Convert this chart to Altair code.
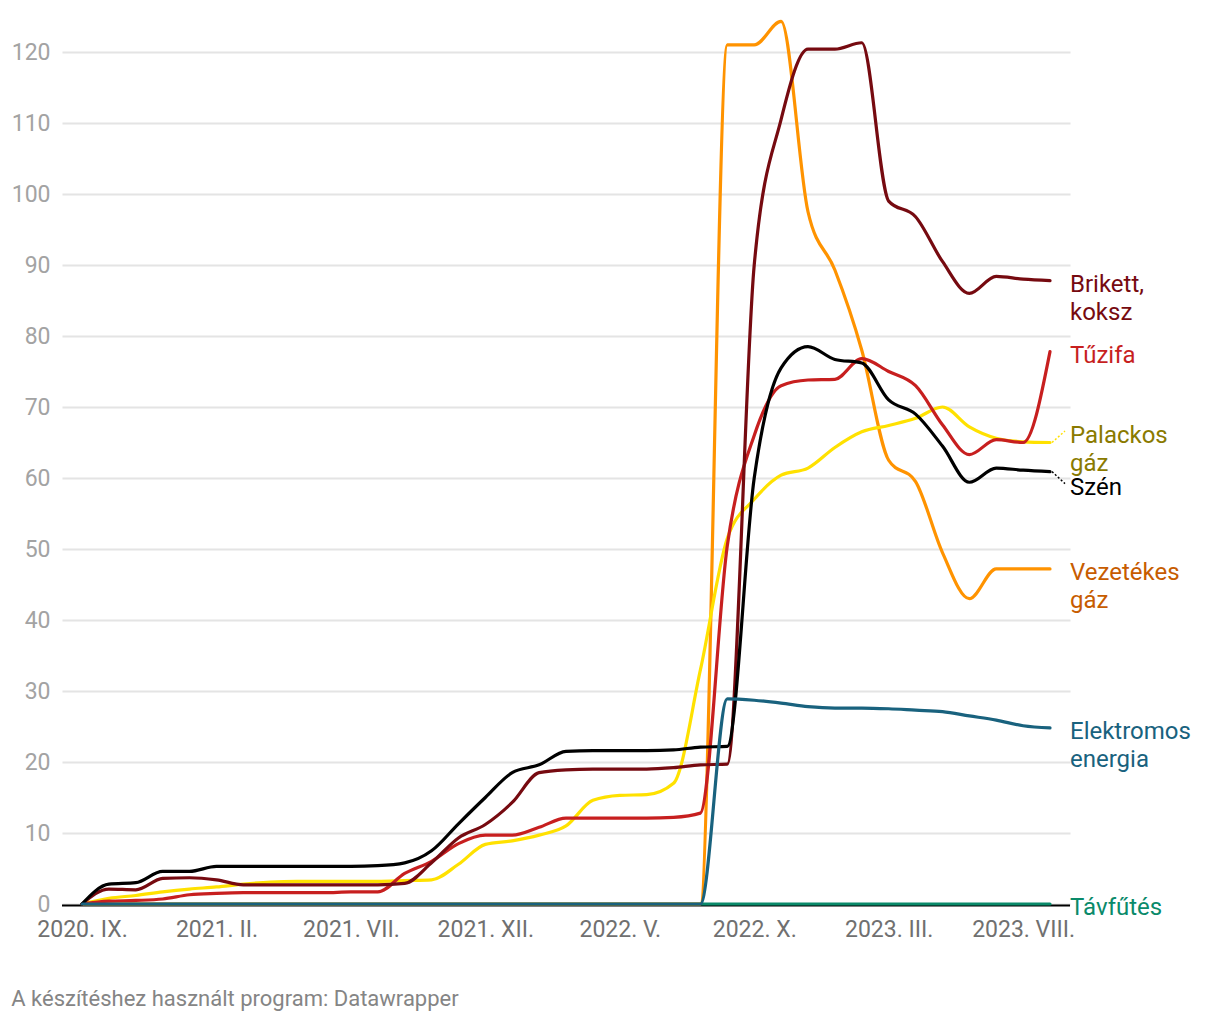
import altair as alt
import pandas as pd

# ---------------- data ----------------
N_MONTHS = 37  # 2020. IX. .. 2023. IX.
TICK_POS = [0, 5, 10, 15, 20, 25, 30, 35]
TICK_LABELS = ["2020. IX.", "2021. II.", "2021. VII.", "2021. XII.",
               "2022. V.", "2022. X.", "2023. III.", "2023. VIII."]
Y_TICKS = [0, 10, 20, 30, 40, 50, 60, 70, 80, 90, 100, 110, 120]

SZEN = [0, 2.8, 3.0, 4.6, 4.6, 5.3, 5.3, 5.3, 5.3, 5.3, 5.3, 5.4, 5.8, 7.5,
        11.3, 15.0, 18.5, 19.6, 21.5, 21.6, 21.6, 21.6, 21.7, 22.1, 22.2,
        60.0, 75.5, 78.5, 76.7, 76.2, 71.0, 69.0, 64.5, 59.4, 61.4, 61.1, 60.9]
BRIKETT = [0, 2.1, 2.0, 3.6, 3.7, 3.4, 2.7, 2.7, 2.7, 2.7, 2.7, 2.7, 2.9, 5.8,
           9.3, 11.2, 14.3, 18.5, 18.9, 19.0, 19.0, 19.0, 19.2, 19.6, 19.7,
           90.0, 110.5, 120.4, 120.4, 121.3, 99.0, 96.8, 90.5, 86.0, 88.4, 88.0, 87.8]
TUZIFA = [0, 0.4, 0.5, 0.7, 1.3, 1.5, 1.6, 1.6, 1.6, 1.6, 1.7, 1.7, 4.3, 6.0,
          8.5, 9.7, 9.7, 10.8, 12.1, 12.1, 12.1, 12.1, 12.2, 12.8, 50.5,
          66.0, 73.0, 73.8, 73.9, 76.8, 75.0, 73.0, 67.5, 63.3, 65.4, 65.0, 77.8]
PALACKOS = [0, 0.8, 1.2, 1.7, 2.1, 2.4, 2.8, 3.1, 3.2, 3.2, 3.2, 3.2, 3.3, 3.4,
            5.6, 8.4, 8.9, 9.7, 11.0, 14.6, 15.3, 15.4, 17.0, 33.0, 51.5,
            57.0, 60.4, 61.4, 64.3, 66.5, 67.4, 68.4, 70.0, 67.2, 65.6, 65.1, 65.0]
VEZETEKES = [0] * 24 + [121.0, 121.0, 124.3, 97.5, 89.3, 78.0, 62.5, 59.5,
                        49.5, 43.0, 47.2, 47.2, 47.2]
ELEKTROMOS = [0] * 24 + [28.9, 28.7, 28.3, 27.8, 27.6, 27.6, 27.5, 27.3,
                         27.1, 26.5, 25.9, 25.1, 24.8]
TAVFUTES = [0] * N_MONTHS

# name, values, line colour, label colour, label text, label nudge (px)
SERIES = [
    ("Távfűtés", TAVFUTES, "#0a8a6a", "#0a8a6a", "Távfűtés", 0),
    ("Vezetékes gáz", VEZETEKES, "#ff9300", "#c75c00", "Vezetékes\ngáz", 0),
    ("Palackos gáz", PALACKOS, "#ffe100", "#8a7a00", "Palackos\ngáz", -10.5),
    ("Tűzifa", TUZIFA, "#c71f1f", "#c71f1f", "Tűzifa", 0),
    ("Brikett, koksz", BRIKETT, "#760a10", "#760a10", "Brikett,\nkoksz", 0),
    ("Szén", SZEN, "#000000", "#000000", "Szén", 12),
    ("Elektromos energia", ELEKTROMOS, "#19627e", "#19627e", "Elektromos\nenergia", 0),
]

# ---------------- layout ----------------
W, H = 1008, 852
PAD_L, PAD_T = 62, 52
X_DOMAIN = [-20 / (968 / 36), 36 + 20 / (968 / 36)]
PX_PER_MONTH = W / (X_DOMAIN[1] - X_DOMAIN[0])
PX_PER_UNIT = H / 120.0
FONT = "Roboto"

label_expr = "[" + ",".join("'%s'" % s for s in TICK_LABELS) + "][round(datum.value/5)]"

X_AXIS = alt.Axis(values=TICK_POS, labelExpr=label_expr, grid=False, domain=False,
                  ticks=False, labelFontSize=23, labelFont=FONT, labelColor="#707070",
                  labelPadding=14, labelOverlap=False, labelFlush=False, title=None)
Y_AXIS = alt.Axis(values=Y_TICKS, grid=True, gridColor="#e4e4e4", gridWidth=2,
                  domain=False, ticks=False, labelFontSize=23, labelFont=FONT,
                  labelColor="#a3a3a3", labelPadding=12, title=None)

X_ENC = alt.X("m:Q", scale=alt.Scale(domain=X_DOMAIN, nice=False, zero=False), axis=X_AXIS)
Y_ENC = alt.Y("v:Q", scale=alt.Scale(domain=[0, 120], nice=False), axis=Y_AXIS)

layers = []

zero = alt.Chart(pd.DataFrame({"v": [0]})).mark_rule(
    color="#000000", strokeWidth=2, yOffset=1.5).encode(y=Y_ENC)
layers.append(zero)

for name, vals, lc, tc, lab, nudge in SERIES:
    df = pd.DataFrame({"m": list(range(N_MONTHS)), "v": vals})
    layers.append(
        alt.Chart(df).mark_line(interpolate="monotone", strokeWidth=3.2, color=lc,
                                strokeCap="round", strokeJoin="round")
        .encode(x=X_ENC, y=Y_ENC)
    )

for name, vals, lc, tc, lab, nudge in SERIES:
    last = vals[-1]
    lv = last - nudge / PX_PER_UNIT
    tdf = pd.DataFrame({"m": [N_MONTHS - 1], "v": [lv], "t": [lab]})
    layers.append(
        alt.Chart(tdf).mark_text(align="left", baseline="middle", dx=20, dy=4,
                                 fontSize=24, font=FONT, color=tc, lineBreak="\n",
                                 lineHeight=28)
        .encode(x=X_ENC, y=Y_ENC, text="t:N")
    )
    if nudge != 0:
        cdf = pd.DataFrame({
            "m": [N_MONTHS - 1 + 2 / PX_PER_MONTH],
            "m2": [N_MONTHS - 1 + 15 / PX_PER_MONTH],
            "v": [last],
            "v2": [last - (nudge + (-1 if nudge < 0 else 0)) / PX_PER_UNIT],
        })
        layers.append(
            alt.Chart(cdf).mark_rule(color=lc, strokeWidth=1.5, strokeDash=[2, 2])
            .encode(x=X_ENC, x2="m2:Q", y=Y_ENC, y2="v2:Q")
        )

chart = alt.layer(*layers).properties(
    width=W, height=H,
    autosize=alt.AutoSizeParams(type="none"),
    padding={"left": PAD_L, "top": PAD_T, "right": 1220 - PAD_L - W, "bottom": 1020 - PAD_T - H},
    title=alt.TitleParams("A készítéshez használt program: Datawrapper", orient="bottom",
                          anchor="start", frame="bounds", offset=48, fontSize=22,
                          font=FONT, fontWeight="normal", color="#858585"),
    background="white",
).configure_view(stroke=None)

chart.save("out.html", embed_options={"renderer": "svg", "actions": False})
